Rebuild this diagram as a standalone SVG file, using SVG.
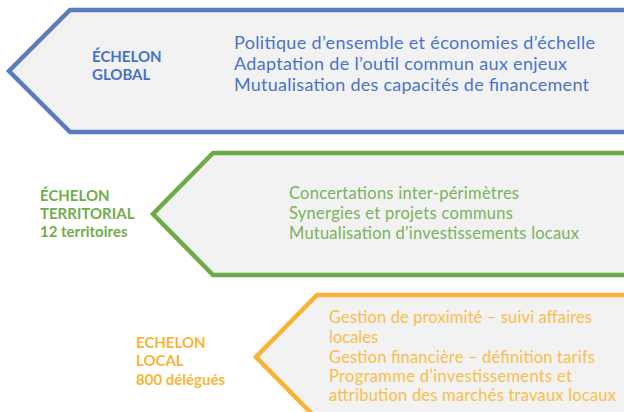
<svg xmlns="http://www.w3.org/2000/svg" width="624" height="412" viewBox="0 0 624 412">
<style>
.shape{fill:#F2F2F2;stroke-width:4.5;stroke-linejoin:miter}
.t{font-family:Lato,"Open Sans","Liberation Sans",sans-serif}
.h{font-weight:bold;font-size:15px}
.b{font-size:18px}
.g{font-size:16.5px}
.o{font-size:16.5px}
</style>
<rect width="624" height="412" fill="#FFFFFF"/>
<g id="global">
<path class="shape" stroke="#5B7BC1" d="M640 10 H70 L9 71 L70 132 H640 Z"/>
<text class="t h" fill="#4472C4" x="92" y="62">ÉCHELON</text>
<text class="t h" fill="#4472C4" x="92" y="80">GLOBAL</text>
<text class="t b" fill="#4A74C8" x="234" y="49" textLength="361">Politique d’ensemble et économies d’échelle</text>
<text class="t b" fill="#4A74C8" x="234" y="70" textLength="333">Adaptation de l’outil commun aux enjeux</text>
<text class="t b" fill="#4A74C8" x="234" y="91" textLength="355">Mutualisation des capacités de financement</text>
</g>
<g id="territorial">
<path class="shape" stroke="#6DAB47" d="M640 153 H213 L153 214 L213 275 H640 Z"/>
<text class="t h" fill="#71AD4A" x="40" y="201">ÉCHELON</text>
<text class="t h" fill="#71AD4A" x="40" y="219">TERRITORIAL</text>
<text class="t h" fill="#71AD4A" x="40" y="237">12 territoires</text>
<text class="t g" fill="#7AB35A" x="289" y="199" textLength="230">Concertations inter-périmètres</text>
<text class="t g" fill="#7AB35A" x="289" y="219" textLength="224">Synergies et projets communs</text>
<text class="t g" fill="#7AB35A" x="289" y="239" textLength="290">Mutualisation d’investissements locaux</text>
</g>
<g id="local">
<path class="shape" stroke="#F9B233" d="M640 295 H317 L256 357 L317 419 H640 Z"/>
<text class="t h" fill="#F8B53A" x="136" y="348">ECHELON</text>
<text class="t h" fill="#F8B53A" x="136" y="366">LOCAL</text>
<text class="t h" fill="#F8B53A" x="136" y="385">800 délégués</text>
<text class="t o" fill="#F9BF4B" x="329" y="323" textLength="263">Gestion de proximité – suivi affaires</text>
<text class="t o" fill="#F9BF4B" x="329" y="343">locales</text>
<text class="t o" fill="#F9BF4B" x="329" y="363" textLength="266">Gestion financière – définition tarifs</text>
<text class="t o" fill="#F9BF4B" x="329" y="382" textLength="243">Programme d’investissements et</text>
<text class="t o" fill="#F9BF4B" x="329" y="401" textLength="287">attribution des marchés travaux locaux</text>
</g>
<g id="connectors"></g>
</svg>
